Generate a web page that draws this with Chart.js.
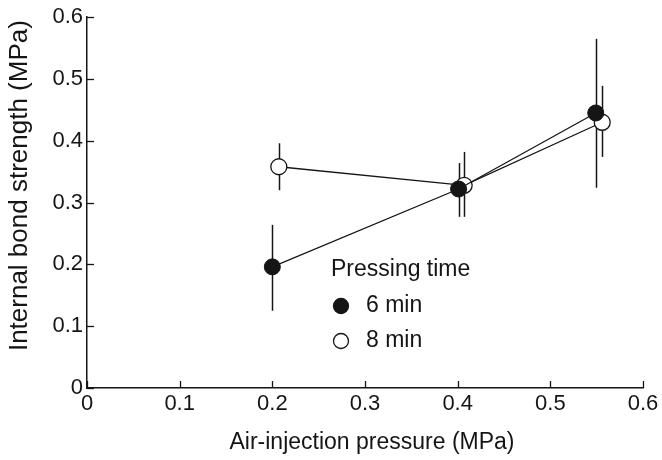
<!DOCTYPE html>
<html>
<head>
<meta charset="utf-8">
<script src="https://cdn.jsdelivr.net/npm/chart.js@4"></script>
<style>
  html, body { margin: 0; padding: 0; background: #fff; }
  #wrap { width: 662px; height: 460px; }
</style>
</head>
<body>
<div id="wrap"><canvas id="ibChart"></canvas></div>
<script>
// Internal bond strength vs. air-injection pressure, two pressing times
const pressure6 = [0.2, 0.401, 0.549];
const strength6 = [0.196, 0.322, 0.445];
const low6 = [0.125, 0.277, 0.324];
const high6 = [0.264, 0.364, 0.565];

const pressure8 = [0.207, 0.407, 0.556];
const strength8 = [0.358, 0.328, 0.430];
const low8 = [0.320, 0.277, 0.374];
const high8 = [0.396, 0.382, 0.489];

const xTicks = [0, 0.1, 0.2, 0.3, 0.4, 0.5, 0.6];
const yTicks = [0, 0.1, 0.2, 0.3, 0.4, 0.5, 0.6];

const xTitle = 'Air-injection pressure (MPa)';
const yTitle = 'Internal bond strength (MPa)';
const legendTitle = 'Pressing time';
const seriesNames = ['6 min', '8 min'];

const ink = '#151515';
const font = 'Liberation Sans, Arial, sans-serif';

function pts(xs, ys) {
  return xs.map((x, i) => ({ x: x, y: ys[i] }));
}

const fmt = v => (v === 0 ? '0' : v.toFixed(1));

// vertical error bars, drawn under the markers
const errorBars = {
  id: 'errorBars',
  beforeDatasetsDraw(chart) {
    const { ctx, scales: { x, y } } = chart;
    const sets = [[pressure6, low6, high6], [pressure8, low8, high8]];
    ctx.save();
    ctx.strokeStyle = ink;
    ctx.lineWidth = 1.5;
    sets.forEach(([xs, lo, hi]) => {
      xs.forEach((v, i) => {
        const px = Math.round(x.getPixelForValue(v)) + 0.5;
        ctx.beginPath();
        ctx.moveTo(px, y.getPixelForValue(lo[i]));
        ctx.lineTo(px, y.getPixelForValue(hi[i]));
        ctx.stroke();
      });
    });
    ctx.restore();
  }
};

// inward tick marks and the two axis titles
const axisDecor = {
  id: 'axisDecor',
  afterDraw(chart) {
    const { ctx, chartArea: a, scales: { x, y } } = chart;
    ctx.save();
    ctx.strokeStyle = ink;
    ctx.lineWidth = 1.3;
    xTicks.forEach(v => {
      const px = Math.round(x.getPixelForValue(v)) + 0.5;
      ctx.beginPath();
      ctx.moveTo(px, a.bottom);
      ctx.lineTo(px, a.bottom - 7);
      ctx.stroke();
    });
    yTicks.forEach(v => {
      const py = Math.round(y.getPixelForValue(v)) + 0.5;
      ctx.beginPath();
      ctx.moveTo(a.left, py);
      ctx.lineTo(a.left + 7, py);
      ctx.stroke();
    });

    ctx.fillStyle = ink;
    ctx.textAlign = 'center';
    ctx.textBaseline = 'middle';
    ctx.font = '23px ' + font;
    ctx.fillText(xTitle, (a.left + a.right) / 2 + 7, 443);

    ctx.translate(20, (a.top + a.bottom) / 2 - 17);
    ctx.rotate(-Math.PI / 2);
    ctx.font = '26px ' + font;
    ctx.fillText(yTitle, 0, 0);
    ctx.restore();
  }
};

// legend box inside the plot
const keyBox = {
  id: 'keyBox',
  afterDraw(chart) {
    const { ctx } = chart;
    ctx.save();
    ctx.fillStyle = ink;
    ctx.font = '23px ' + font;
    ctx.textBaseline = 'middle';
    ctx.fillText(legendTitle, 331, 270);
    const rows = [306, 341];
    chart.data.datasets.forEach((ds, i) => {
      ctx.beginPath();
      ctx.arc(341, rows[i], 7.5, 0, Math.PI * 2);
      ctx.fillStyle = ds.pointBackgroundColor;
      ctx.fill();
      ctx.lineWidth = 1.3;
      ctx.strokeStyle = ink;
      ctx.stroke();
      ctx.fillStyle = ink;
      ctx.fillText(ds.label, 366, rows[i]);
    });
    ctx.restore();
  }
};

new Chart(document.getElementById('ibChart'), {
  type: 'scatter',
  data: {
    datasets: [
      {
        label: seriesNames[0],
        data: pts(pressure6, strength6),
        showLine: true,
        borderColor: ink,
        borderWidth: 1.3,
        pointRadius: 8,
        pointBackgroundColor: ink,
        pointBorderColor: ink,
        pointBorderWidth: 1
      },
      {
        label: seriesNames[1],
        data: pts(pressure8, strength8),
        showLine: true,
        borderColor: ink,
        borderWidth: 1.3,
        pointRadius: 8,
        pointBackgroundColor: '#ffffff',
        pointBorderColor: ink,
        pointBorderWidth: 1.3
      }
    ]
  },
  options: {
    responsive: true,
    maintainAspectRatio: false,
    animation: false,
    layout: { padding: { top: 17, right: 19, left: 0, bottom: 0 } },
    plugins: {
      legend: { display: false },
      tooltip: { enabled: false }
    },
    scales: {
      x: {
        type: 'linear',
        min: 0,
        max: 0.6,
        afterBuildTicks: s => { s.ticks = xTicks.map(v => ({ value: v })); },
        afterFit: s => { s.height = 72; },
        grid: { display: false, drawTicks: false },
        border: { display: true, color: ink, width: 1.5 },
        ticks: {
          padding: 3,
          color: ink,
          font: { family: font, size: 22 },
          callback: fmt
        }
      },
      y: {
        type: 'linear',
        min: 0,
        max: 0.6,
        afterBuildTicks: s => { s.ticks = yTicks.map(v => ({ value: v })); },
        afterFit: s => { s.width = 87; },
        grid: { display: false, drawTicks: false },
        border: { display: true, color: ink, width: 1.5 },
        ticks: {
          padding: 4,
          color: ink,
          font: { family: font, size: 22 },
          callback: fmt
        }
      }
    }
  },
  plugins: [errorBars, axisDecor, keyBox]
});
</script>
</body>
</html>
